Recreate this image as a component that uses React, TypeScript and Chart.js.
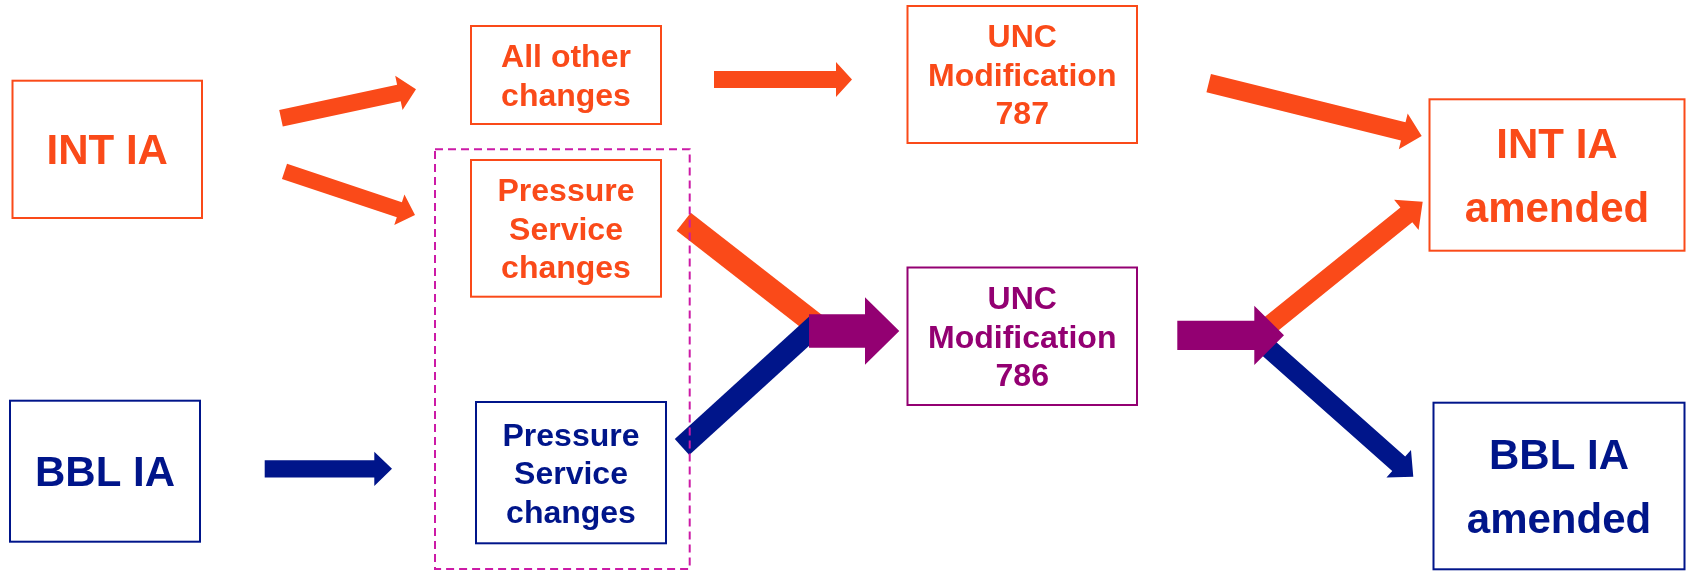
import React, { useEffect, useRef } from "react";
import { Chart, registerables } from "chart.js";

Chart.register(...registerables);

const CANVAS_W = 1691;
const CANVAS_H = 573;

// ---- Diagram nodes (coordinates on the chart's own x / y scales) ----
const nodeLines: string[][] = [
  ["INT IA"],
  ["All other", "changes"],
  ["Pressure", "Service", "changes"],
  ["BBL IA"],
  ["Pressure", "Service", "changes"],
  ["UNC", "Modification", "787"],
  ["UNC", "Modification", "786"],
  ["INT IA", "amended"],
  ["BBL IA", "amended"],
];
const nodeLeft = [12.5, 471, 471, 10, 476, 907.5, 907.5, 1429.5, 1433.5];
const nodeRight = [202, 661, 661, 200, 666, 1137, 1137, 1684.5, 1684.5];
const nodeTop = [80.7, 26, 160, 400.7, 402, 6, 267.5, 99.3, 402.7];
const nodeBottom = [218, 124, 296.7, 541.7, 543.3, 143, 405, 250.7, 569.3];
const nodeKind = ["int", "int", "int", "bbl", "bbl", "int", "unc", "int", "bbl"];
const nodeBig = [true, false, false, true, false, false, false, true, true];

// ---- Arrows (tail -> tip), drawn in this order ----
const arrowFromX = [281, 284.5, 714, 1208.7, 264.7, 683.7, 682, 809, 1260, 1257, 1177.3];
const arrowFromY = [118.3, 171.3, 79.5, 83.2, 468.8, 221.7, 447, 331, 333, 338, 335.3];
const arrowToX = [416, 415, 852, 1421.7, 392, 815, 817, 899.3, 1422.7, 1413.3, 1284];
const arrowToY = [89.3, 215, 79.5, 136, 468.8, 324, 324, 331, 201.7, 476.7, 335.3];
const arrowKind = ["int", "int", "int", "int", "bbl", "int", "bbl", "unc", "int", "bbl", "unc"];
const arrowShaft = [17, 16, 17, 18.8, 17.3, 23, 21.5, 33.7, 19, 19.5, 29.3];
const arrowHead = [35, 32, 35, 36.8, 34.3, 0, 0, 67.7, 39, 37, 59.3];
const arrowHeadLen = [17.5, 16.5, 16, 19, 17.7, 0, 0, 34.3, 21, 19.5, 29.7];

// ---- Dashed group around the two "Pressure Service changes" boxes ----
const groupLeft = 435;
const groupRight = 689.7;
const groupTop = 149.3;
const groupBottom = 569;

const colors: Record<string, string> = {
  int: "#FA4A19",
  bbl: "#00158A",
  unc: "#930072",
  group: "#CC1AA6",
};

const FONT = '"Liberation Sans", Arial, Helvetica, sans-serif';

const diagramPlugin = {
  id: "flowDiagram",
  afterDraw(chart: any) {
    const ctx: CanvasRenderingContext2D = chart.ctx;
    const xs = chart.scales.x;
    const ys = chart.scales.y;
    const px = (v: number) => xs.getPixelForValue(v);
    const py = (v: number) => ys.getPixelForValue(v);
    const kx = Math.abs(px(1) - px(0));
    ctx.save();

    // arrows
    for (let i = 0; i < arrowFromX.length; i++) {
      const tx = px(arrowFromX[i]);
      const ty = py(arrowFromY[i]);
      const hx = px(arrowToX[i]);
      const hy = py(arrowToY[i]);
      const dx = hx - tx;
      const dy = hy - ty;
      const len = Math.hypot(dx, dy);
      const ux = dx / len;
      const uy = dy / len;
      const nx = -uy;
      const ny = ux;
      const s = (arrowShaft[i] * kx) / 2;
      const h = (arrowHead[i] * kx) / 2;
      const hl = arrowHeadLen[i] * kx;
      ctx.fillStyle = colors[arrowKind[i]];
      ctx.beginPath();
      if (hl > 0) {
        const bx = hx - ux * hl;
        const by = hy - uy * hl;
        ctx.moveTo(tx + nx * s, ty + ny * s);
        ctx.lineTo(bx + nx * s, by + ny * s);
        ctx.lineTo(bx + nx * h, by + ny * h);
        ctx.lineTo(hx, hy);
        ctx.lineTo(bx - nx * h, by - ny * h);
        ctx.lineTo(bx - nx * s, by - ny * s);
        ctx.lineTo(tx - nx * s, ty - ny * s);
      } else {
        ctx.moveTo(tx + nx * s, ty + ny * s);
        ctx.lineTo(hx + nx * s, hy + ny * s);
        ctx.lineTo(hx - nx * s, hy - ny * s);
        ctx.lineTo(tx - nx * s, ty - ny * s);
      }
      ctx.closePath();
      ctx.fill();
    }

    // dashed group
    ctx.strokeStyle = colors.group;
    ctx.lineWidth = 2;
    ctx.setLineDash([8, 5]);
    ctx.strokeRect(px(groupLeft), py(groupTop), px(groupRight) - px(groupLeft), py(groupBottom) - py(groupTop));
    ctx.setLineDash([]);

    // boxes + labels
    for (let i = 0; i < nodeLines.length; i++) {
      const x0 = px(nodeLeft[i]);
      const x1 = px(nodeRight[i]);
      const y0 = py(nodeTop[i]);
      const y1 = py(nodeBottom[i]);
      const c = colors[nodeKind[i]];
      ctx.fillStyle = "#ffffff";
      ctx.fillRect(x0, y0, x1 - x0, y1 - y0);
      ctx.strokeStyle = c;
      ctx.lineWidth = 2;
      ctx.strokeRect(x0, y0, x1 - x0, y1 - y0);

      const size = nodeBig[i] ? 42 : 32;
      const lh = nodeBig[i] ? 63.5 : 38.5;
      const lines = nodeLines[i];
      const cx = (x0 + x1) / 2;
      const cy = (y0 + y1) / 2;
      ctx.fillStyle = c;
      ctx.font = `bold ${size}px ${FONT}`;
      ctx.textAlign = "center";
      ctx.textBaseline = "alphabetic";
      const capHalf = size * 0.358;
      for (let j = 0; j < lines.length; j++) {
        const ly = cy + (j - (lines.length - 1) / 2) * lh + capHalf;
        ctx.fillText(lines[j], cx, ly);
      }
    }
    ctx.restore();
  },
};

export default function App() {
  const canvasRef = useRef<HTMLCanvasElement | null>(null);

  useEffect(() => {
    document.body.style.margin = "0";
    const canvas = canvasRef.current;
    if (!canvas) return;
    const chart = new Chart(canvas, {
      type: "scatter",
      data: {
        datasets: [
          {
            label: "nodes",
            data: nodeLeft.map((l, i) => ({
              x: (l + nodeRight[i]) / 2,
              y: (nodeTop[i] + nodeBottom[i]) / 2,
            })),
            pointRadius: 0,
            pointHoverRadius: 0,
          },
        ],
      },
      options: {
        animation: false,
        responsive: false,
        maintainAspectRatio: false,
        devicePixelRatio: 1,
        layout: { padding: 0 },
        events: [],
        plugins: {
          legend: { display: false },
          tooltip: { enabled: false },
          title: { display: false },
        },
        scales: {
          x: { type: "linear", min: 0, max: CANVAS_W, display: false },
          y: { type: "linear", min: 0, max: CANVAS_H, reverse: true, display: false },
        },
      },
      plugins: [diagramPlugin],
    });
    return () => chart.destroy();
  }, []);

  return (
    <div style={{ position: "absolute", left: 0, top: 0, width: CANVAS_W, height: CANVAS_H, background: "#fff" }}>
      <canvas ref={canvasRef} width={CANVAS_W} height={CANVAS_H} style={{ display: "block" }} />
    </div>
  );
}
